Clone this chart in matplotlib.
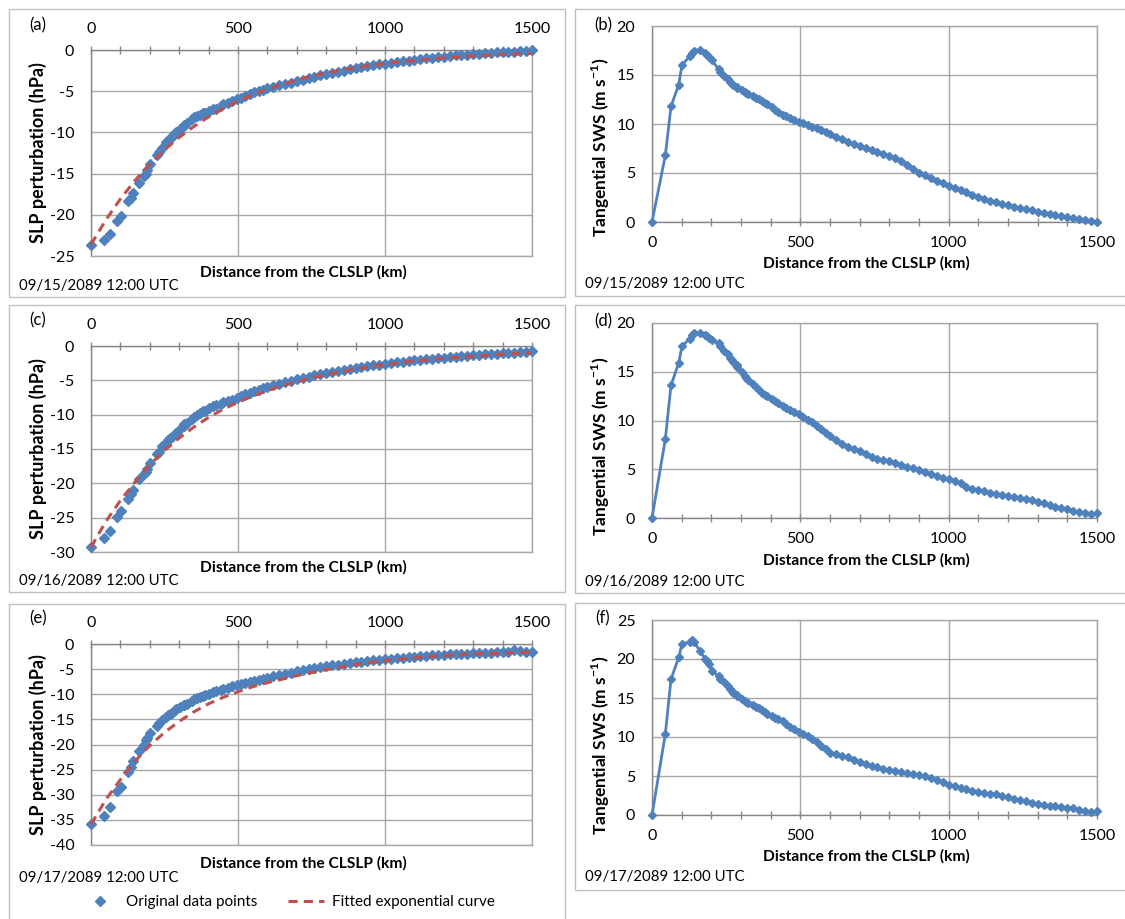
import matplotlib
matplotlib.use("Agg")
import matplotlib.pyplot as plt
from matplotlib.lines import Line2D
from matplotlib.patches import Rectangle

# distance of each grid point from the CLSLP (km), shared by all panels
DIST_KM = [0, 45, 64, 90, 101, 127, 135, 142, 162, 180, 186, 191, 201, 225, 230, 242, 255, 262, 270, 274,
           285, 288, 302, 315, 318, 325, 342, 352, 360, 371, 382, 387, 403, 415, 425, 443, 450,
           465, 480, 495, 510, 525, 540, 555, 570, 585, 600,
           620, 640, 660, 680, 700, 720, 740, 760, 780, 800, 820, 840, 860, 880, 900, 920, 940, 960, 980, 1000,
           1020, 1040, 1060, 1080, 1100, 1120, 1140, 1160, 1180, 1200, 1220, 1240, 1260, 1280, 1300,
           1320, 1340, 1360, 1380, 1400, 1420, 1440, 1460, 1480, 1500]

# SLP perturbation (hPa)
slp_0915 = [-23.7, -23.0, -22.3, -20.7, -20.2, -18.3, -18.0, -17.4, -16.1, -15.3, -15.0, -14.6, -13.8, -12.7, -12.4,
            -11.9, -11.2, -11.0, -10.7, -10.5, -10.1, -9.9, -9.6, -9.2, -9.1, -8.9, -8.4, -8.1, -8.0, -7.9,
            -7.7, -7.6, -7.4, -7.2, -7.1, -6.8, -6.6,
            -6.4, -6.2, -6.0, -5.8, -5.55, -5.3, -5.15, -5.0, -4.85, -4.65,
            -4.45, -4.3, -4.1, -3.95, -3.75, -3.6, -3.4, -3.25, -3.05, -2.9,
            -2.75, -2.65, -2.5, -2.35, -2.2, -2.1, -1.95, -1.85, -1.75, -1.65,
            -1.55, -1.45, -1.35, -1.3, -1.2, -1.1, -1.0, -0.95, -0.9, -0.8,
            -0.75, -0.65, -0.6, -0.55, -0.5, -0.45, -0.4, -0.35, -0.3, -0.3,
            -0.25, -0.2, -0.15, -0.1, -0.05]
slp_0916 = [-29.3, -28.0, -27.0, -24.9, -24.1, -22.3, -21.5, -21.0, -19.4, -18.6, -18.3, -17.9, -17.1, -15.7, -15.4,
            -14.6, -14.2, -13.7, -13.4, -13.2, -12.8, -12.6, -12.1, -11.6, -11.4, -11.2, -10.6, -10.3, -10.1, -9.8,
            -9.5, -9.4, -9.0, -8.8, -8.6, -8.4, -8.2,
            -8.0, -7.8, -7.5, -7.3, -7.0, -6.8, -6.6, -6.35, -6.15, -5.95,
            -5.75, -5.5, -5.3, -5.05, -4.85, -4.65, -4.45, -4.25, -4.05, -3.9,
            -3.75, -3.6, -3.45, -3.3, -3.15, -3.0, -2.9, -2.8, -2.7, -2.6,
            -2.5, -2.4, -2.3, -2.2, -2.1, -2.0, -1.95, -1.85, -1.8, -1.7,
            -1.6, -1.55, -1.5, -1.4, -1.35, -1.3, -1.2, -1.15, -1.1, -1.05,
            -1.0, -0.95, -0.9, -0.85, -0.8]
slp_0917 = [-35.9, -34.2, -32.5, -29.3, -28.4, -25.5, -24.4, -23.2, -21.2, -20.0, -19.1, -18.7, -17.7, -16.3, -15.8,
            -15.1, -14.5, -14.2, -13.9, -13.7, -13.2, -13.0, -12.6, -12.2, -12.1, -11.9, -11.3, -11.0, -10.8, -10.5,
            -10.3, -10.2, -9.9, -9.6, -9.4, -9.1, -8.9,
            -8.7, -8.4, -8.2, -7.9, -7.7, -7.5, -7.3, -7.1, -6.9, -6.7,
            -6.4, -6.2, -5.9, -5.7, -5.4, -5.2, -5.0, -4.8, -4.6, -4.4,
            -4.25, -4.1, -3.95, -3.8, -3.65, -3.5, -3.4, -3.25, -3.1, -3.0,
            -2.9, -2.8, -2.7, -2.6, -2.5, -2.4, -2.35, -2.25, -2.2, -2.1,
            -2.05, -2.0, -1.95, -1.9, -1.85, -1.8, -1.75, -1.7, -1.65, -1.6,
            -1.5, -1.2, -1.45, -1.55, -1.5]

# tangential surface wind speed (m/s)
sws_0915 = [0.0, 6.8, 11.8, 14.0, 16.0, 16.9, 17.2, 17.5, 17.6, 17.2, 17.0, 16.8, 16.5, 15.6, 15.3,
            14.9, 14.6, 14.3, 14.1, 14.0, 13.8, 13.7, 13.5, 13.3, 13.2, 13.1, 12.9, 12.7, 12.5, 12.3,
            12.1, 12.0, 11.7, 11.4, 11.2, 10.9, 10.8,
            10.6, 10.4, 10.25, 10.1, 9.9, 9.7, 9.55, 9.35, 9.15, 8.95,
            8.7, 8.45, 8.2, 7.95, 7.75, 7.55, 7.35, 7.15, 6.95, 6.75,
            6.5, 6.2, 5.8, 5.4, 5.05, 4.8, 4.5, 4.2, 3.95, 3.7,
            3.5, 3.3, 3.05, 2.8, 2.55, 2.35, 2.15, 2.0, 1.85, 1.7,
            1.55, 1.45, 1.3, 1.2, 1.05, 0.95, 0.8, 0.7, 0.6, 0.5,
            0.4, 0.3, 0.2, 0.15, 0.0]
sws_0916 = [0.0, 8.1, 13.6, 15.9, 17.6, 18.4, 18.8, 19.0, 19.0, 18.8, 18.7, 18.5, 18.3, 17.9, 17.6,
            17.1, 16.8, 16.4, 16.2, 16.0, 15.7, 15.5, 15.0, 14.6, 14.4, 14.2, 13.7, 13.4, 13.1, 12.8,
            12.6, 12.5, 12.2, 12.0, 11.8, 11.5, 11.3,
            11.1, 10.9, 10.7, 10.4, 10.1, 9.8, 9.4, 9.1, 8.7, 8.4,
            8.0, 7.6, 7.3, 7.1, 6.9, 6.6, 6.3, 6.1, 5.9, 5.8,
            5.6, 5.4, 5.2, 5.1, 4.95, 4.7, 4.5, 4.3, 4.1, 3.95,
            3.8, 3.6, 3.2, 2.95, 2.85, 2.75, 2.6, 2.5, 2.4, 2.25,
            2.15, 2.05, 1.95, 1.8, 1.65, 1.5, 1.3, 1.15, 1.0, 0.9,
            0.75, 0.6, 0.55, 0.45, 0.5]
sws_0917 = [0.0, 10.4, 17.4, 20.2, 21.9, 22.2, 22.4, 22.2, 21.0, 20.0, 19.7, 19.3, 18.5, 17.8, 17.5,
            17.0, 16.6, 16.2, 15.9, 15.7, 15.4, 15.3, 14.9, 14.6, 14.5, 14.4, 14.1, 13.9, 13.7, 13.4,
            13.2, 13.0, 12.7, 12.4, 12.3, 12.0, 11.7,
            11.3, 11.0, 10.7, 10.4, 10.1, 9.8, 9.4, 8.9, 8.4, 8.0,
            7.8, 7.6, 7.4, 7.1, 6.8, 6.6, 6.3, 6.1, 5.9, 5.8,
            5.65, 5.5, 5.4, 5.2, 5.1, 5.0, 4.8, 4.5, 4.2, 3.9,
            3.7, 3.5, 3.3, 3.1, 2.95, 2.8, 2.7, 2.65, 2.45, 2.25,
            2.05, 1.9, 1.75, 1.6, 1.45, 1.3, 1.2, 1.1, 1.0, 0.95,
            0.85, 0.7, 0.5, 0.4, 0.45]

# fitted exponential curves, read every 50 km
FIT_DIST_KM = [0, 50, 100, 150, 200, 250, 300, 350, 400, 450, 500, 550, 600, 650, 700, 750,
               800, 850, 900, 950, 1000, 1050, 1100, 1150, 1200, 1250, 1300, 1350, 1400, 1450, 1500]
fit_0915 = [-23.6, -20.65, -18.08, -15.82, -13.84, -12.12, -10.6, -9.28, -8.12, -7.11, -6.22, -5.44, -4.76, -4.17,
            -3.65, -3.19, -2.79, -2.45, -2.14, -1.87, -1.64, -1.43, -1.26, -1.1, -0.96, -0.84, -0.74, -0.64,
            -0.56, -0.49, -0.43]
fit_0916 = [-29.3, -25.6, -22.5, -19.8, -17.3, -15.2, -13.4, -11.8, -10.4, -9.2, -8.2, -7.3, -6.5, -5.8,
            -5.2, -4.65, -4.2, -3.75, -3.35, -3.0, -2.7, -2.45, -2.2, -2.0, -1.8, -1.65, -1.5, -1.35,
            -1.2, -1.1, -1.0]
fit_0917 = [-35.9, -31.0, -27.0, -23.3, -20.2, -17.6, -15.4, -13.5, -11.9, -10.6, -9.5, -8.5, -7.7, -7.0,
            -6.3, -5.7, -5.1, -4.6, -4.1, -3.7, -3.3, -3.0, -2.75, -2.5, -2.3, -2.15, -2.0, -1.9,
            -1.8, -1.7, -1.6]

DATES = ["09/15/2089 12:00 UTC", "09/16/2089 12:00 UTC", "09/17/2089 12:00 UTC"]
SLP_YMIN = [-25, -30, -40]
SWS_YMAX = [20, 20, 25]

W, H = 1125, 919
BLUE = "#4F81BD"
RED = "#C0504D"
GRID = "#A6A6A6"
AXIS = "#868686"
FS = 11.5
FIT_DASHES = (3.0, 2.0)

plt.rcParams["font.family"] = ["Lato", "DejaVu Sans"]
plt.rcParams["axes.unicode_minus"] = False
plt.rcParams["mathtext.fontset"] = "custom"
plt.rcParams["mathtext.rm"] = "Lato"
plt.rcParams["mathtext.bf"] = "Lato:bold"


def fx(x):
    return x / W


def fy(y):
    return 1 - y / H


def add_axes_px(fig, left, top, right, bottom):
    return fig.add_axes([fx(left), fy(bottom), (right - left) / W, (bottom - top) / H])


def panel_box(fig, left, top, right, bottom):
    fig.add_artist(Rectangle((fx(left), fy(bottom)), (right - left) / W, (bottom - top) / H,
                             transform=fig.transFigure, fill=False, ec="#BFBFBF", lw=1.0))


def style_axes(ax, xaxis_on_top):
    ax.set_xlim(0, 1500)
    ax.set_xticks([0, 500, 1000, 1500])
    ax.set_xticks(range(0, 1501, 100), minor=True)
    ax.grid(True, which="major", color=GRID, lw=1.0)
    ax.set_axisbelow(True)
    for side in ("left", "right", "top", "bottom"):
        ax.spines[side].set_color(GRID)
        ax.spines[side].set_linewidth(1.0)
    ax.spines["left"].set_color(AXIS)
    ax.spines["top" if xaxis_on_top else "bottom"].set_color(AXIS)
    if xaxis_on_top:
        ax.xaxis.set_ticks_position("top")
    ax.tick_params(axis="x", which="both", direction="inout", length=6, width=1, color=AXIS,
                   labelsize=FS, pad=7)
    ax.tick_params(axis="y", length=0, labelsize=FS, pad=12)


def slp_panel(fig, row, values, fit):
    top, bottom = [(50, 256), (346, 552), (644, 845)][row]
    ax = add_axes_px(fig, 91, top, 532, bottom)
    ax.plot(DIST_KM, values, ls="none", marker="D", ms=5.3, color=BLUE, clip_on=False, zorder=3)
    ax.plot(FIT_DIST_KM, fit, color=RED, lw=2.2, dashes=FIT_DASHES, clip_on=False, zorder=4)
    ax.set_ylim(SLP_YMIN[row], 0)
    ax.set_yticks(range(SLP_YMIN[row], 1, 5))
    style_axes(ax, xaxis_on_top=True)
    return ax


def sws_panel(fig, row, values):
    top, bottom = [(26, 222), (323, 518), (620, 815)][row]
    ax = add_axes_px(fig, 652, top, 1097, bottom)
    ax.plot(DIST_KM, values, color=BLUE, lw=2.0, marker="D", ms=4.2, clip_on=False, zorder=3)
    ax.set_ylim(0, SWS_YMAX[row])
    ax.set_yticks(range(0, SWS_YMAX[row] + 1, 5))
    style_axes(ax, xaxis_on_top=False)
    return ax


fig = plt.figure(figsize=(W / 100, H / 100), dpi=100)

slp_series = [(slp_0915, fit_0915), (slp_0916, fit_0916), (slp_0917, fit_0917)]
sws_series = [sws_0915, sws_0916, sws_0917]
left_tags = ["(a)", "(c)", "(e)"]
right_tags = ["(b)", "(d)", "(f)"]

# pixel positions of the surrounding boxes and texts for the three rows
left_boxes = [(9, 9, 565, 297), (9, 305, 565, 592), (9, 604, 565, 930)]
right_boxes = [(575, 9, 1130, 296), (575, 305, 1130, 593), (575, 603, 1130, 890)]
left_tag_y = [25, 320, 618]
right_tag_y = [25, 321, 618]
left_xlabel_y = [272, 567, 863]
right_xlabel_y = [263, 560, 856]
left_ylabel_y = [153, 449, 745]
right_ylabel_y = [147, 446, 745]
left_date_y = [286, 581, 878]
right_date_y = [284, 582, 877]

for row in range(3):
    slp_panel(fig, row, *slp_series[row])
    sws_panel(fig, row, sws_series[row])

    panel_box(fig, *left_boxes[row])
    panel_box(fig, *right_boxes[row])

    fig.text(fx(38), fy(left_tag_y[row]), left_tags[row], fontsize=12, ha="center", va="center")
    fig.text(fx(603), fy(right_tag_y[row]), right_tags[row], fontsize=12, ha="center", va="center")

    fig.text(fx(303), fy(left_xlabel_y[row]), "Distance from the CLSLP (km)", fontsize=11.2,
             fontweight="bold", ha="center", va="center")
    fig.text(fx(866), fy(right_xlabel_y[row]), "Distance from the CLSLP (km)", fontsize=11.2,
             fontweight="bold", ha="center", va="center")

    fig.text(fx(38), fy(left_ylabel_y[row]), "SLP perturbation (hPa)", fontsize=13, fontweight="bold",
             rotation=90, ha="center", va="center")
    fig.text(fx(601), fy(right_ylabel_y[row]), "Tangential SWS (m s$^{\\mathbf{-1}}$)", fontsize=12.5,
             fontweight="bold", rotation=90, ha="center", va="center")

    fig.text(fx(19), fy(left_date_y[row]), DATES[row], fontsize=10.8, ha="left", va="center")
    fig.text(fx(585), fy(right_date_y[row]), DATES[row], fontsize=10.8, ha="left", va="center")

handles = [Line2D([], [], ls="none", marker="D", ms=5.5, color=BLUE),
           Line2D([], [], color=RED, lw=2.2, dashes=FIT_DASHES)]
fig.legend(handles, ["Original data points", "Fitted exponential curve"], loc="center",
           bbox_to_anchor=(fx(288), fy(902)), ncol=2, frameon=False, fontsize=11,
           handlelength=2.4, handletextpad=0.5, columnspacing=2.0)

fig.savefig("out.png", dpi=100)
